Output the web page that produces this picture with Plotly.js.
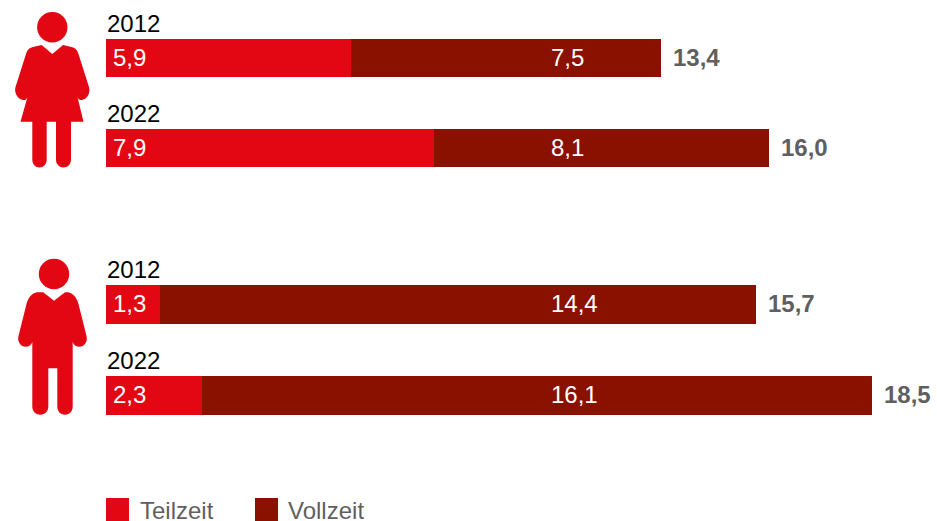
<!DOCTYPE html>
<html><head><meta charset="utf-8">
<script src="https://cdn.plot.ly/plotly-3.0.1.min.js"></script>
<style>html,body{margin:0;padding:0;background:#fff;overflow:hidden}#c{width:937px;height:521px}</style>
</head><body><div id="c"></div>
<script>
var years = ["2012", "2022"];
var rows = [0, 1];
var teilzeitFrauen = [5.92, 7.92];
var vollzeitFrauen = [7.48, 8.1];
var teilzeitMaenner = [1.3, 2.32];
var vollzeitMaenner = [14.4, 16.18];
var teilLabelsFrauen = ["5,9", "7,9"];
var vollLabelsFrauen = ["7,5", "8,1"];
var totalLabelsFrauen = ["13,4", "16,0"];
var teilLabelsMaenner = ["1,3", "2,3"];
var vollLabelsMaenner = ["14,4", "16,1"];
var totalLabelsMaenner = ["15,7", "18,5"];
var legendNames = ["Teilzeit", "Vollzeit"];

var W = 937, H = 521, RED = "#e30613", DARK = "#8a1000", GREY = "#5f5f5f";
var FONT = "Liberation Sans, Arial, sans-serif";
var pxPerUnit = 41.4, x0 = 106;
var VOLL_X = (551 - x0) / pxPerUnit;

function px(p) {
  return p.replace(/(-?[\d.]+),(-?[\d.]+)/g, function (_, a, b) {
    return (a / W).toFixed(5) + "," + (1 - b / H).toFixed(5);
  });
}
function bar(name, xs, color, yax) {
  return {type: "bar", orientation: "h", name: name, x: xs, y: rows, xaxis: "x", yaxis: yax,
    marker: {color: color, line: {width: 0}}, hoverinfo: "skip", showlegend: false};
}
var data = [
  bar(legendNames[0], teilzeitFrauen, RED, "y"),
  bar(legendNames[1], vollzeitFrauen, DARK, "y"),
  bar(legendNames[0], teilzeitMaenner, RED, "y2"),
  bar(legendNames[1], vollzeitMaenner, DARK, "y2")
];

var ann = [];
function note(txt, x, yax, yval, xshift, yshift, size, color, bold) {
  ann.push({text: bold ? "<b>" + txt + "</b>" : txt, x: x, y: yval, xref: "x", yref: yax,
    xanchor: "left", yanchor: "middle", xshift: xshift, yshift: yshift, showarrow: false,
    borderpad: 0, borderwidth: 0, align: "left",
    font: {family: FONT, size: size, color: color}});
}
function group(yax, teil, voll, tl, vl, totals) {
  rows.forEach(function (r, i) {
    note(years[i], 0, yax, r, 1, 35, 24, "#000");
    note(tl[i], 0, yax, r, 7, 1, 24, "#fff");
    note(vl[i], VOLL_X, yax, r, 0, 1, 24, "#fff");
    note(totals[i], teil[i] + voll[i], yax, r, 12, 1, 24, GREY, true);
  });
}
group("y", teilzeitFrauen, vollzeitFrauen, teilLabelsFrauen, vollLabelsFrauen, totalLabelsFrauen);
group("y2", teilzeitMaenner, vollzeitMaenner, teilLabelsMaenner, vollLabelsMaenner, totalLabelsMaenner);

function legendText(txt, xp) {
  ann.push({text: txt, x: xp / W, y: 1 - 510 / H, xref: "paper", yref: "paper", xanchor: "left",
    yanchor: "middle", showarrow: false, borderpad: 0, height: 22, valign: "middle",
    font: {family: FONT, size: 24, color: GREY}});
}
legendText(legendNames[0], 139);
legendText(legendNames[1], 287);

function shape(path, color) {
  return {type: "path", xref: "paper", yref: "paper", path: px(path), fillcolor: color, line: {width: 0}, layer: "above"};
}
function circle(cx, cy, r) {
  return {type: "circle", xref: "paper", yref: "paper", x0: (cx - r) / W, x1: (cx + r) / W,
    y0: 1 - (cy + r) / H, y1: 1 - (cy - r) / H, fillcolor: RED, line: {width: 0}};
}
function square(l, c) {
  return {type: "rect", xref: "paper", yref: "paper", x0: l / W, x1: (l + 23) / W,
    y0: 0, y1: 1 - 498 / H, fillcolor: c, line: {width: 0}};
}
var woman = "M41.7,45 L52.3,54 L63,45 L71.5,47 C74.5,47.6 77,49.5 78,52.5 L89,87 C90.5,92 88,99 82,100 C79.5,100.3 78.5,99.5 77.5,97 L83.5,121.7 L71,121.7 L71,159.5 C71,170 56,170 56,159.5 L56,121.7 L46.7,121.7 L46.7,159.5 C46.7,170 32.3,170 32.3,159.5 L32.3,121.7 L20.5,121.7 L27.5,97 C26.5,99.5 25.5,100.3 23,100 C17,99 14,92 15.5,87 L26.5,52.5 C27.5,49.5 30,47.6 33,47 Z";
var man = "M43.3,292.3 L54,300.7 L65,292.3 L68,292.3 C73,293 77,298 78.5,304 L86.5,336 C88,342 84,346.7 79.5,346.7 C76,346.7 73.5,345 72.7,341.7 L72.7,406.5 C72.7,417.5 57.3,417.5 57.3,406.5 L57.3,368.3 L48.3,368.3 L48.3,406.5 C48.3,417.5 32.3,417.5 32.3,406.5 L32.3,341.7 C31.5,345 29,346.7 25.5,346.7 C21,346.7 17,342 18.5,336 L26.5,304 C28,298 32,293 37,292.3 Z";

var layout = {
  width: W, height: H, margin: {l: 0, r: 0, t: 0, b: 0, pad: 0}, paper_bgcolor: "#fff", plot_bgcolor: "rgba(0,0,0,0)",
  barmode: "stack", bargap: 0.58, showlegend: false, dragmode: false,
  xaxis: {domain: [x0 / W, 1], range: [0, (W - x0) / pxPerUnit], visible: false, fixedrange: true, anchor: "y"},
  yaxis: {domain: [1 - 193 / H, 1 - 13 / H], range: [1.5, -0.5], visible: false, fixedrange: true, anchor: "x"},
  yaxis2: {domain: [1 - 441 / H, 1 - 259 / H], range: [1.5, -0.5], visible: false, fixedrange: true, anchor: "x"},
  annotations: ann,
  shapes: [circle(52.3, 27.3, 15.2), shape(woman, RED), circle(54, 274, 15.2), shape(man, RED), square(106, RED), square(255, DARK)]
};
Plotly.newPlot("c", data, layout, {displayModeBar: false, staticPlot: true});
</script></body></html>
